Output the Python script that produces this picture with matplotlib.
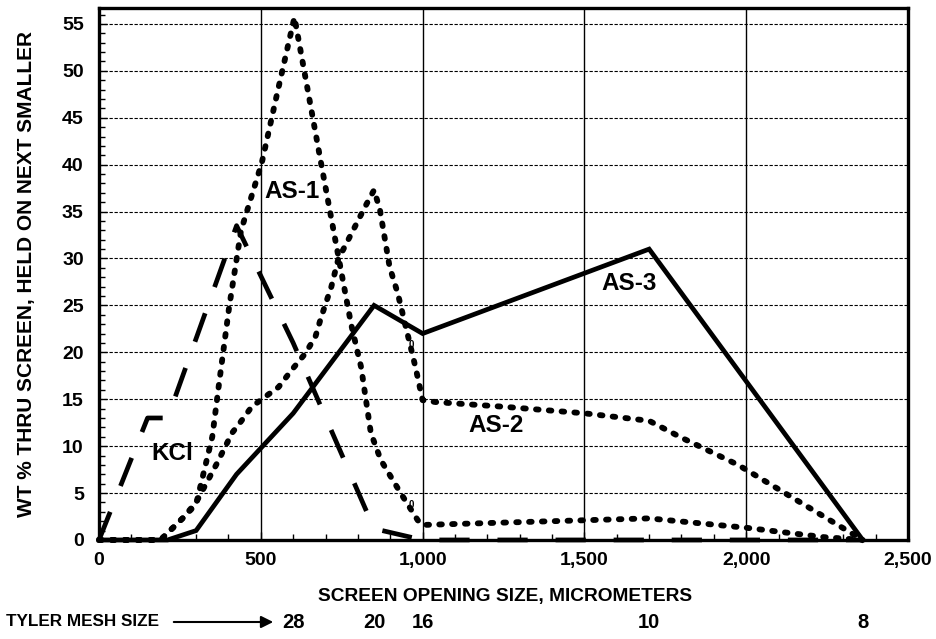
import matplotlib
matplotlib.use('Agg')
import matplotlib.pyplot as plt
from matplotlib.ticker import MultipleLocator, FuncFormatter
from matplotlib.transforms import blended_transform_factory

# screen opening (micrometers) vs wt % thru screen
kcl_x = [0, 150, 212, 425, 600, 850, 1000, 2360]
kcl_y = [0, 13, 13, 33.5, 21, 1.2, 0, 0]

as1_x = [0, 190, 258, 300, 350, 371, 402, 439, 503, 546, 586, 604, 687, 730,
         779, 810, 840, 871, 932, 985, 1000, 1400, 1700, 2000, 2240, 2360]
as1_y = [0, 0, 2.3, 3.8, 11, 16.7, 24.8, 33, 40.2, 46.9, 53, 55.7, 40, 32,
         23, 18.4, 11.4, 8.5, 5, 2.1, 1.6, 2.0, 2.3, 1.3, 0.3, 0]

as2_x = [0, 190, 258, 300, 365, 411, 438, 472, 515, 555, 595, 638, 669, 687,
         718, 739, 791, 822, 850, 868, 898, 923, 960, 978, 1000, 1040, 1250,
         1500, 1700, 1800, 1975, 2360]
as2_y = [0, 0, 2.3, 4, 8.2, 11.4, 12.6, 14.2, 15.3, 16.3, 18.1, 19.9, 21.7, 23.8,
         27, 29.9, 33.4, 35.5, 37.3, 35.2, 29.1, 26.3, 21, 18.4, 14.9, 14.7, 14.2,
         13.5, 12.7, 10.9, 8, 0]

as3_x = [0, 212, 300, 425, 600, 850, 1000, 1700, 2360]
as3_y = [0, 0, 1, 7, 13.5, 25, 22, 31, 0]

# curve names and where they sit on the chart
curve_labels = ['AS-1', 'AS-2', 'AS-3', 'KCl']
label_x = [596, 1228, 1639, 225]
label_y = [37.1, 12.2, 27.3, 9.2]

# tyler mesh numbers under the matching screen opening
mesh_sizes = ['28', '20', '16', '10', '8']
mesh_x = [600, 850, 1000, 1700, 2360]

plt.rcParams['font.family'] = ['Liberation Sans', 'DejaVu Sans']
plt.rcParams['font.weight'] = 'bold'

fig = plt.figure(figsize=(9.36, 6.39), dpi=100)
ax = fig.add_axes([0.1058, 0.155, 0.8643, 0.8325])

dotted = (0, (0.45, 1.75))
ax.plot(kcl_x, kcl_y, color='black', lw=3.4, linestyle=(0, (6.4, 5.9)),
        clip_on=False, zorder=3)
ax.plot(as1_x, as1_y, color='black', lw=4.2, linestyle=dotted,
        dash_capstyle='round', clip_on=False, zorder=3)
ax.plot(as2_x, as2_y, color='black', lw=4.2, linestyle=dotted,
        dash_capstyle='round', clip_on=False, zorder=3)
ax.plot(as3_x, as3_y, color='black', lw=3.4, solid_joinstyle='miter',
        clip_on=False, zorder=3)

for name, lx, ly in zip(curve_labels, label_x, label_y):
    ax.text(lx, ly, name, ha='center', va='center', fontsize=17.5,
            fontweight='bold', zorder=4)

# little scan marks next to the AS-1 / AS-2 descent
ax.text(966, 20.8, '0', ha='center', va='center', fontsize=7, fontweight='bold')
ax.text(966, 3.7, '0', ha='center', va='center', fontsize=7, fontweight='bold')

ax.set_xlim(0, 2500)
ax.set_ylim(0, 56.7)
ax.xaxis.set_major_locator(MultipleLocator(500))
ax.xaxis.set_minor_locator(MultipleLocator(100))
ax.yaxis.set_major_locator(MultipleLocator(5))
ax.yaxis.set_minor_locator(MultipleLocator(1))
ax.xaxis.set_major_formatter(FuncFormatter(lambda v, p: f'{int(v):,}'))

ax.tick_params(axis='both', which='major', direction='in', length=6, width=1,
               labelsize=14)
ax.tick_params(axis='both', which='minor', direction='in', length=4, width=1)
ax.tick_params(axis='x', which='major', pad=9)
ax.tick_params(axis='y', which='major', pad=11)
for lab in ax.get_xticklabels() + ax.get_yticklabels():
    lab.set_fontweight('bold')

ax.yaxis.grid(True, color='black', linestyle=(0, (3, 1.5)), lw=0.8)
ax.xaxis.grid(True, color='black', linestyle='-', lw=1.0)
for s in ax.spines.values():
    s.set_linewidth(2.4)

ax.set_xlabel('SCREEN OPENING SIZE, MICROMETERS', fontsize=13.8, fontweight='bold')
ax.set_ylabel('WT % THRU SCREEN, HELD ON NEXT SMALLER', fontsize=15,
              fontweight='bold')
ax.xaxis.set_label_coords(0.502, -0.09)
ax.yaxis.set_label_coords(-0.078, 0.5)

# tyler mesh row under the axis
row_y = 17 / 639
fig.text(6 / 936, row_y, 'TYLER MESH SIZE', ha='left', va='center',
         fontsize=12.3, fontweight='bold')
ax.annotate('', xy=(276, 17), xytext=(171, 17), xycoords='figure pixels',
            textcoords='figure pixels',
            arrowprops=dict(arrowstyle='-|>', lw=1.5, color='black',
                            mutation_scale=18))
trans = blended_transform_factory(ax.transData, fig.transFigure)
for m, mx in zip(mesh_sizes, mesh_x):
    ax.text(mx, row_y, m, transform=trans, ha='center', va='center',
            fontsize=14.5, fontweight='bold')

fig.savefig('out.png', dpi=100)
